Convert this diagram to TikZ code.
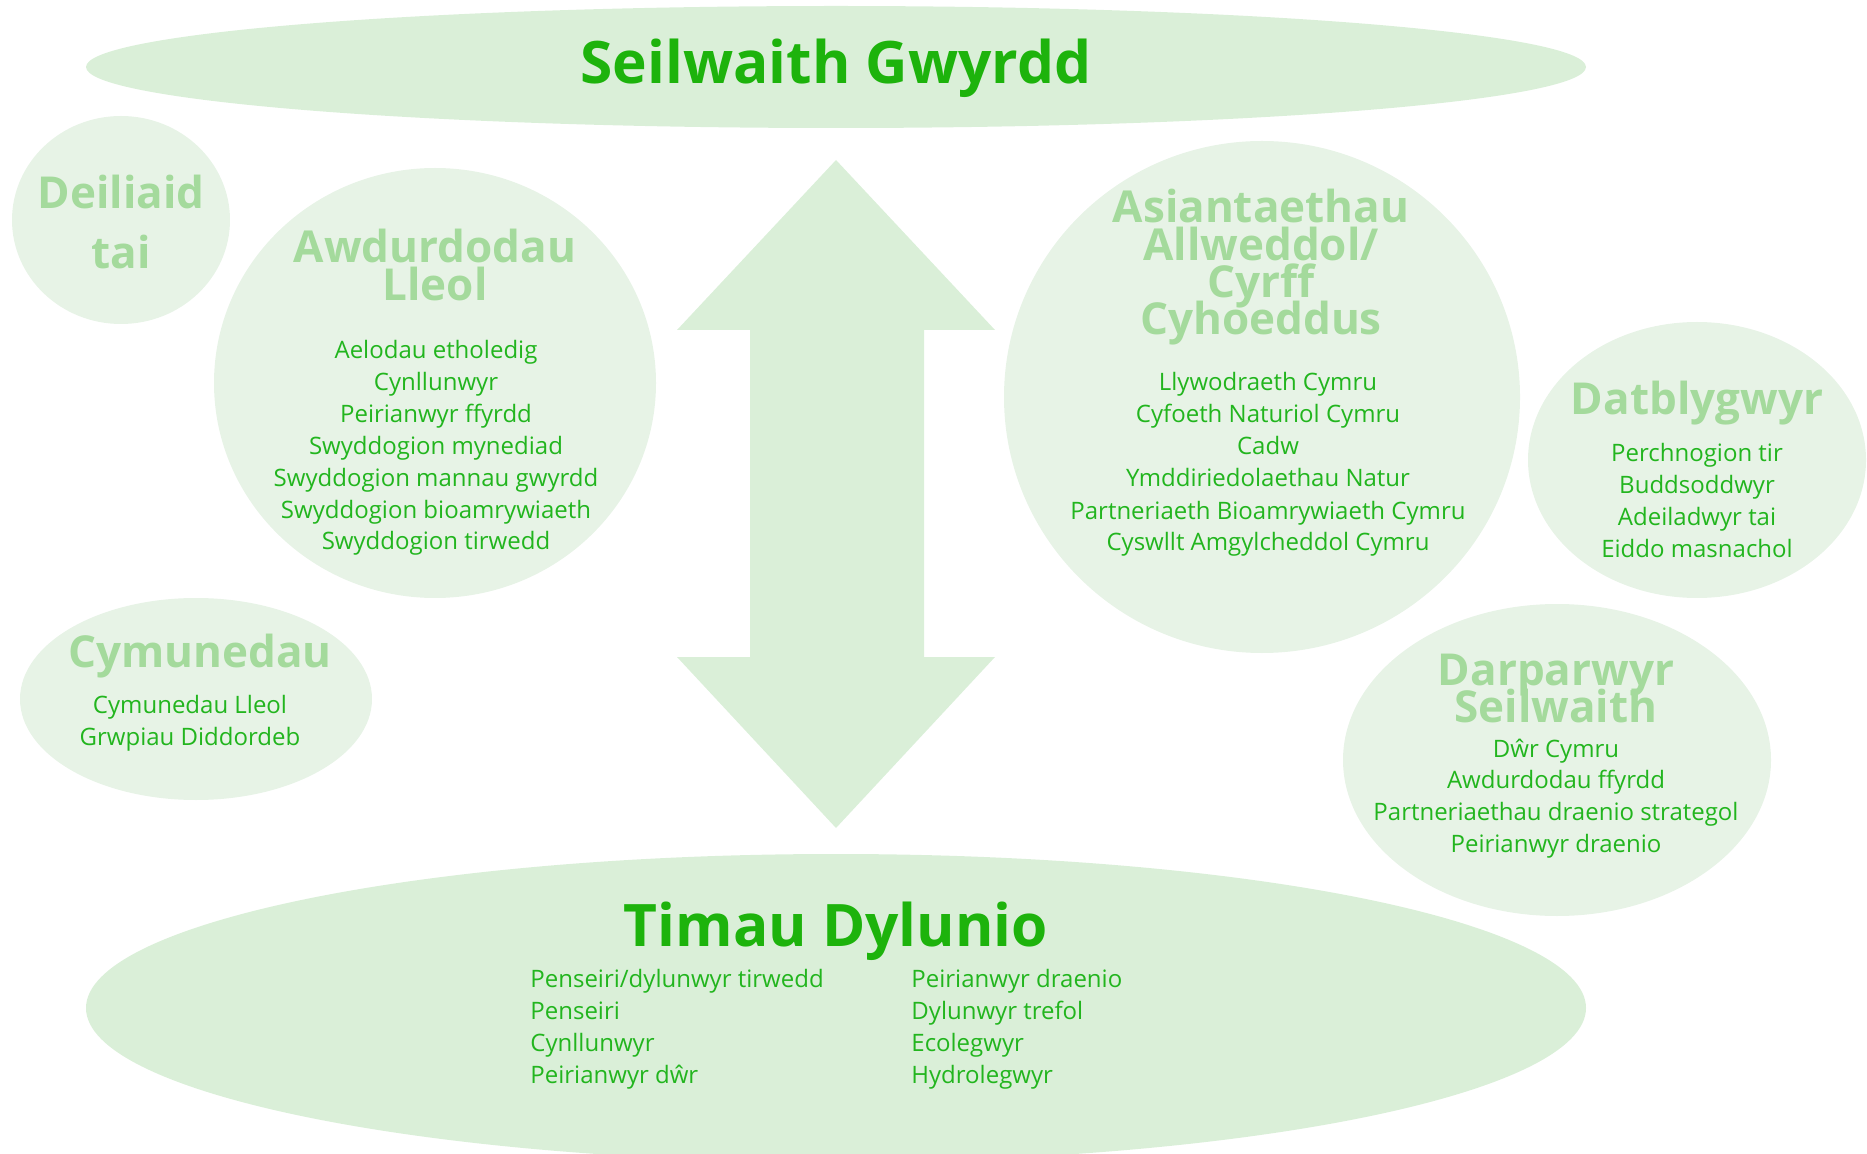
\documentclass[tikz,border=0pt]{standalone}
\usepackage{fontspec}
\setmainfont{Open Sans}
\usetikzlibrary{shapes.geometric}

\definecolor{bigfill}{HTML}{DAEFD8}
\definecolor{smallfill}{HTML}{E7F3E6}
\definecolor{darkgreen}{HTML}{1DB30C}
\definecolor{palegreen}{HTML}{A4DA9C}
\definecolor{textgreen}{HTML}{22B51E}

\tikzset{
  bigdisc/.style={ellipse, fill=bigfill, inner sep=0pt, outer sep=0pt},
  disc/.style={ellipse, fill=smallfill, inner sep=0pt, outer sep=0pt},
  maintitle/.style={anchor=base, inner sep=0pt, text=darkgreen,
    font=\fontsize{29.3}{32}\selectfont\bfseries},
  grouptitle/.style={anchor=base, inner sep=0pt, text=palegreen,
    font=\fontsize{22}{24}\selectfont\bfseries},
  member/.style={anchor=base, inner sep=0pt, text=textgreen,
    font=\fontsize{12}{14}\selectfont}
}

\begin{document}
\begin{tikzpicture}[x=0.5pt, y=-0.5pt]
    \useasboundingbox (0,0) rectangle (1867,1154);

    \node[bigdisc, minimum width=750pt, minimum height=61pt] (top) at (836,67) {};
    \node[bigdisc, minimum width=750pt, minimum height=154pt] (bottom) at (836,1008) {};

    \node[disc, minimum width=109pt, minimum height=104pt] (tenants) at (121,220) {};
    \node[disc, minimum width=221pt, minimum height=215pt] (local) at (435,383) {};
    \node[disc, minimum width=258pt, minimum height=256pt] (agencies) at (1262,397) {};
    \node[disc, minimum width=169pt, minimum height=138pt] (devs) at (1697,460) {};
    \node[disc, minimum width=176pt, minimum height=101pt] (comms) at (196,699) {};
    \node[disc, minimum width=214pt, minimum height=156pt] (infra) at (1557,760) {};

    \coordinate (tip1) at (836,160);
    \coordinate (tip2) at (836,828);
    \fill[bigfill] (tip1) -- (995,330) -- (924,330) -- (924,657) -- (995,657)
      -- (tip2) -- (677,657) -- (750,657) -- (750,330) -- (677,330) -- cycle;

    \node[maintitle] (toptitle) at (836,84) {Seilwaith Gwyrdd};
    \node[maintitle] (bottomtitle) at (836,946) {Timau Dylunio};

    \node[grouptitle] (tenants1) at (121,209) {Deiliaid};
    \node[grouptitle] (tenants2) at (121,269) {tai};

    \node[grouptitle] (local1) at (435,263) {Awdurdodau};
    \node[grouptitle] (local2) at (435,301) {Lleol};
    \foreach \t [count=\i from 0] in {Aelodau etholedig, Cynllunwyr,
        Peirianwyr ffyrdd, Swyddogion mynediad, Swyddogion mannau gwyrdd,
        Swyddogion bioamrywiaeth, Swyddogion tirwedd} {
      \node[member] (localm\i) at (436, 359+31.8*\i) {\t};
    }

    \foreach \t [count=\i from 0] in {Asiantaethau, Allweddol/, Cyrff, Cyhoeddus} {
      \node[grouptitle] (agencies\i) at (1261, 223+37.3*\i) {\t};
    }
    \foreach \t [count=\i from 0] in {Llywodraeth Cymru, Cyfoeth Naturiol Cymru,
        Cadw, Ymddiriedolaethau Natur, Partneriaeth Bioamrywiaeth Cymru,
        Cyswllt Amgylcheddol Cymru} {
      \node[member] (agenciesm\i) at (1268, 391+32*\i) {\t};
    }

    \node[grouptitle] (devs1) at (1697,415) {Datblygwyr};
    \foreach \t [count=\i from 0] in {Perchnogion tir, Buddsoddwyr,
        Adeiladwyr tai, Eiddo masnachol} {
      \node[member] (devsm\i) at (1697, 461.5+32.1*\i) {\t};
    }

    \node[grouptitle] (comms1) at (200,667) {Cymunedau};
    \foreach \t [count=\i from 0] in {Cymunedau Lleol, Grwpiau Diddordeb} {
      \node[member] (commsm\i) at (190, 713+32*\i) {\t};
    }

    \node[grouptitle] (infra1) at (1556,685) {Darparwyr};
    \node[grouptitle] (infra2) at (1556,722) {Seilwaith};
    \foreach \t [count=\i from 0] in {Dŵr Cymru, Awdurdodau ffyrdd,
        Partneriaethau draenio strategol, Peirianwyr draenio} {
      \node[member] (infram\i) at (1556, 757+31.7*\i) {\t};
    }

    \foreach \t [count=\i from 0] in {Penseiri/dylunwyr tirwedd, Penseiri,
        Cynllunwyr, Peirianwyr dŵr} {
      \node[member, anchor=base west] (teaml\i) at (530, 987+32*\i) {\t};
    }
    \foreach \t [count=\i from 0] in {Peirianwyr draenio, Dylunwyr trefol,
        Ecolegwyr, Hydrolegwyr} {
      \node[member, anchor=base west] (teamr\i) at (911, 987+32*\i) {\t};
    }
\end{tikzpicture}
\end{document}
